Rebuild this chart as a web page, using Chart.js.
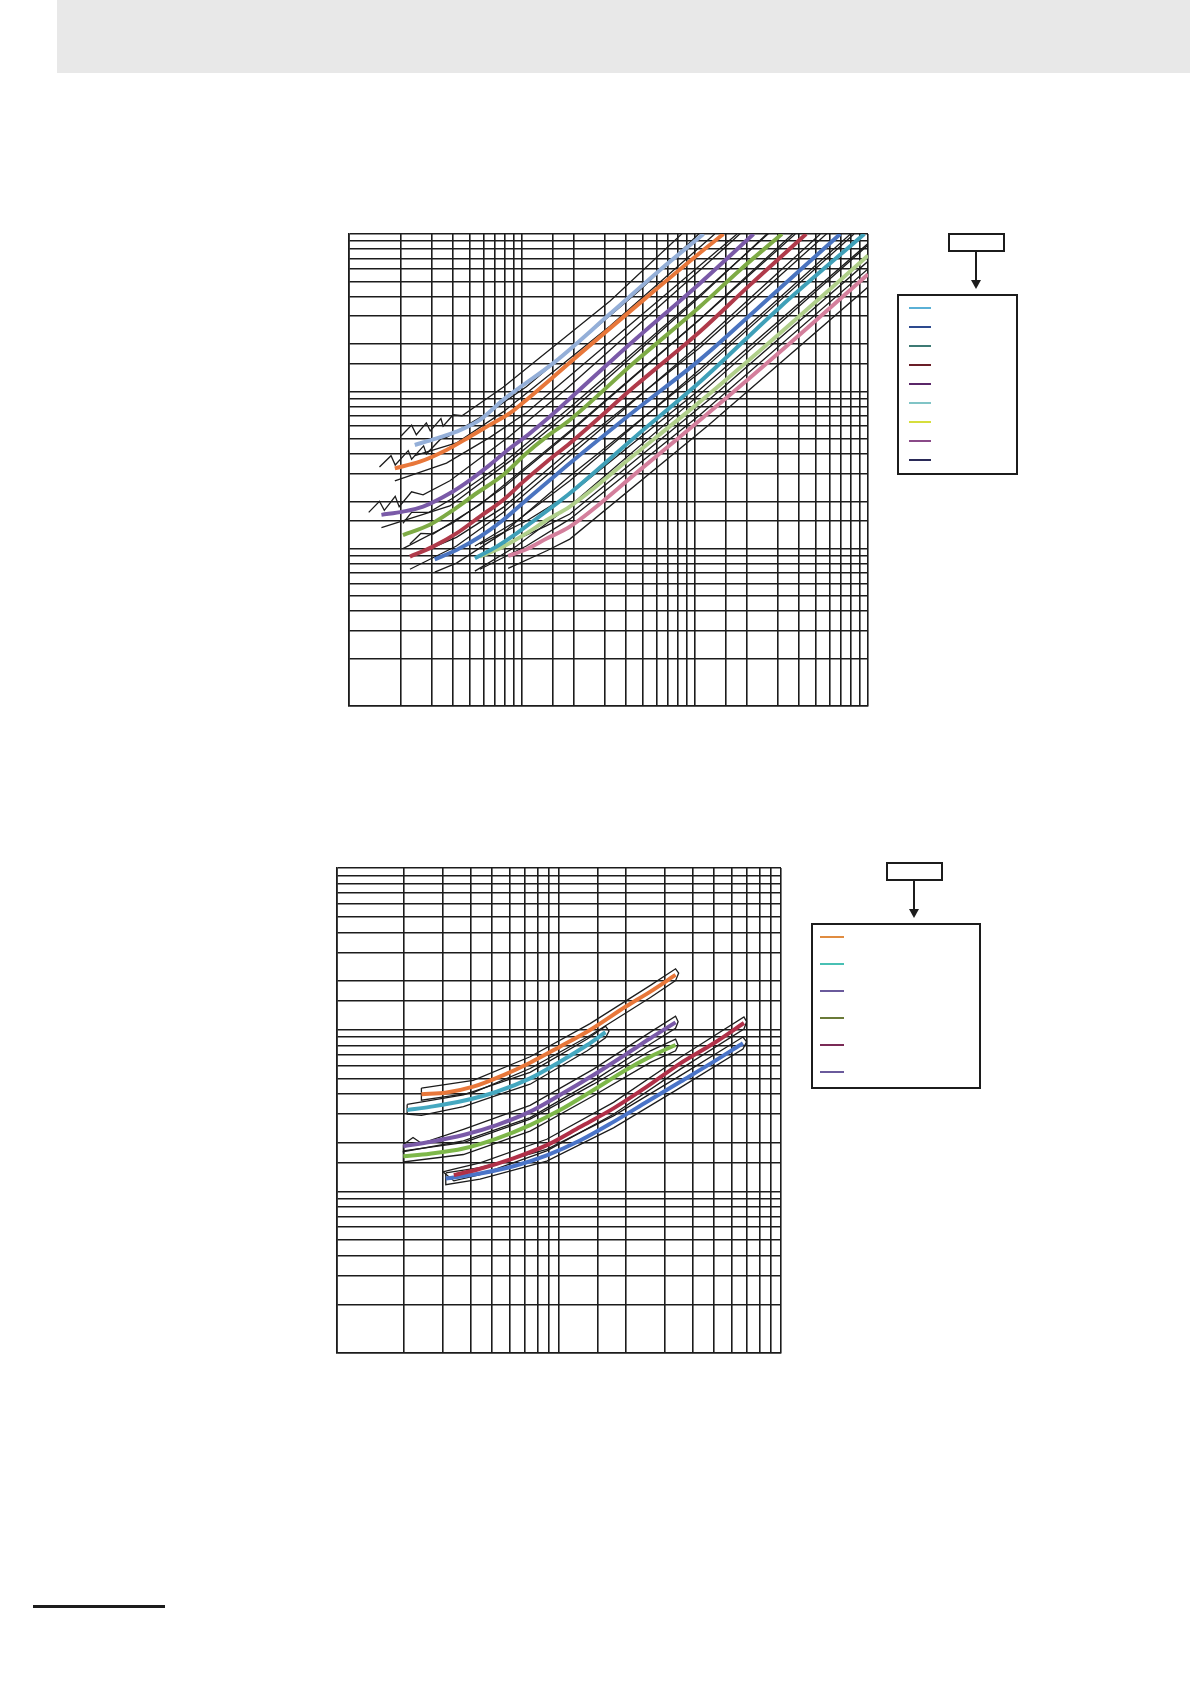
<!DOCTYPE html>
<html lang="en">
<head>
    <meta charset="UTF-8">
    <title>Characteristic curves</title>
    <script src="https://cdn.jsdelivr.net/npm/chart.js"></script>
    <style>
        body { margin: 0; background: #fff; }
        #page { position: relative; width: 1190px; height: 1684px; overflow: hidden; }
        .header { position: absolute; left: 57px; top: 0; width: 1133px; height: 73px; background: #e8e8e8; }
        .wrap { position: absolute; }
        .box { position: absolute; border: 2px solid #1c1c1c; box-sizing: border-box; background: #fff; }
        .stem { position: absolute; width: 2px; background: #1c1c1c; }
        .head { position: absolute; width: 0; height: 0; border-left: 5px solid transparent; border-right: 5px solid transparent; border-top: 9px solid #1c1c1c; }
        .sample { position: absolute; height: 2px; }
        .footer { position: absolute; left: 33px; top: 1605px; width: 132px; height: 3px; background: #1c1c1c; }
    </style>
</head>
<body>
<div id="page">
    <div class="header"></div>

    <!-- upper chart -->
    <div class="wrap" style="left:347px; top:232px;"><canvas id="topChart" width="523" height="476"></canvas></div>
    <div class="box" style="left:948px; top:233px; width:57px; height:19px;"></div>
    <div class="stem" style="left:975px; top:251px; height:30px;"></div>
    <div class="head" style="left:971px; top:280px;"></div>
    <div class="box" id="topLegend" style="left:897px; top:294px; width:121px; height:181px;"></div>

    <!-- lower chart -->
    <div class="wrap" style="left:335px; top:866px;"><canvas id="bottomChart" width="448" height="489"></canvas></div>
    <div class="box" style="left:886px; top:862px; width:57px; height:19px;"></div>
    <div class="stem" style="left:913px; top:880px; height:30px;"></div>
    <div class="head" style="left:909px; top:909px;"></div>
    <div class="box" id="bottomLegend" style="left:811px; top:923px; width:170px; height:166px;"></div>

    <div class="footer"></div>
</div>

<script>
    // ---- upper chart: colored characteristic curves ----
    const lbX = [2.40, 3.21, 4.18, 5.71, 7.78, 15.5, 32.3, 62.8, 112];
    const lbY = [4.56, 5.03, 5.54, 6.58, 8.82, 15.4, 31.1, 59.1, 100];
    const orX = [1.84, 2.57, 3.66, 5.00, 6.52, 8.51, 10.6, 21.6, 48.1, 107, 146];
    const orY = [3.24, 3.57, 4.24, 5.15, 6.12, 7.26, 8.82, 17.3, 36.5, 76.0, 100];
    const puX = [1.54, 2.05, 2.68, 3.83, 5.00, 6.52, 8.51, 11.1, 14.5, 18.1, 42.1, 107, 218];
    const puY = [1.64, 1.72, 1.85, 2.25, 2.73, 3.41, 4.35, 5.41, 6.91, 8.60, 20.0, 48.7, 100];
    const grX = [2.05, 2.93, 4.00, 5.46, 7.78, 10.6, 13.9, 18.9, 45.0, 107, 182, 318];
    const grY = [1.22, 1.42, 1.76, 2.25, 2.94, 4.04, 5.15, 6.58, 15.4, 34.6, 59.1, 100];
    const rdX = [2.25, 3.06, 4.18, 5.71, 7.78, 10.2, 13.9, 18.9, 45.0, 107, 208, 439];
    const rdY = [0.89, 1.03, 1.25, 1.60, 2.04, 2.67, 3.57, 4.68, 10.8, 24.0, 47.5, 100];
    const blX = [3.13, 4.18, 5.71, 7.78, 10.6, 14.5, 18.9, 45.0, 107, 272, 691];
    const blY = [0.856, 0.981, 1.19, 1.52, 2.04, 2.73, 3.49, 7.55, 15.9, 39.8, 100];
    const tlX = [5.34, 7.13, 9.31, 12.2, 15.9, 18.9, 45.0, 107, 311, 952];
    const tlY = [0.869, 1.03, 1.25, 1.56, 1.94, 2.25, 5.13, 11.5, 34.4, 100];
    const lgX = [5.71, 7.78, 10.6, 13.9, 18.9, 45.0, 107, 311, 1000];
    const lgY = [0.890, 1.03, 1.25, 1.52, 1.85, 3.98, 8.60, 23.5, 72.9];
    const pkX = [8.32, 10.6, 13.9, 18.9, 48.1, 120, 355, 1000];
    const pkY = [0.899, 0.991, 1.16, 1.38, 3.17, 7.30, 20.3, 55.5];

    // upper chart: black tolerance band edges [x, y]
    const lbUp = [[2.0,5.2],[2.3,6.1],[2.45,5.3],[2.8,6.3],[2.95,5.6],[3.4,6.7],[3.5,6.0],[4.0,7.1],[4.5,7.0],[7.78,10.6],[32.3,37.5],[100,120]];
    const lbLo = [[2.4,3.9],[4.18,4.7],[7.78,7.4],[32.3,26],[130,100]];
    const orUp = [[1.5,3.3],[1.75,3.9],[1.85,3.4],[2.2,4.2],[2.3,3.7],[2.7,4.5],[2.8,4.0],[3.4,5.0],[3.66,5.1],[6.52,7.4],[10.6,10.7],[48.1,44],[125,120]];
    const orLo = [[1.84,2.7],[3.66,3.5],[6.52,5.1],[10.6,7.3],[48.1,30],[175,100]];
    const puUp = [[1.3,1.7],[1.5,2.0],[1.6,1.75],[1.85,2.15],[1.95,1.85],[2.3,2.3],[2.68,2.2],[3.83,2.7],[8.51,5.2],[18.1,10.4],[107,59],[218,120]];
    const puLo = [[1.54,1.36],[3.83,1.87],[8.51,3.6],[18.1,7.1],[107,40],[260,100]];
    const grUp = [[2.05,1.45],[2.3,1.7],[2.9,1.7],[4.0,2.1],[7.78,3.5],[18.9,7.9],[107,41],[318,120]];
    const grLo = [[2.05,1.0],[4.0,1.46],[7.78,2.44],[18.9,5.5],[107,28.7],[380,100]];
    const rdUp = [[2.25,1.07],[2.6,1.25],[3.06,1.24],[5.71,1.9],[18.9,5.6],[107,28.8],[439,120]];
    const rdLo = [[2.25,0.74],[4.18,1.04],[7.78,1.7],[18.9,3.9],[107,20],[530,100]];
    const blUp = [[3.13,1.03],[4.18,1.18],[7.78,1.83],[18.9,4.2],[107,19.0],[691,120]];
    const blLo = [[3.13,0.71],[4.18,0.81],[7.78,1.26],[18.9,2.9],[107,13.2],[830,100]];
    const tlUp = [[5.34,1.04],[9.31,1.5],[18.9,2.7],[107,13.8],[952,120]];
    const tlLo = [[5.34,0.72],[9.31,1.04],[18.9,1.87],[107,9.6],[1000,85]];
    const lgUp = [[5.71,1.07],[10.6,1.5],[18.9,2.22],[107,10.3],[1000,87]];
    const lgLo = [[5.71,0.74],[10.6,1.04],[18.9,1.54],[107,7.1],[1000,60]];
    const pkUp = [[8.32,1.08],[13.9,1.4],[18.9,1.66],[120,8.8],[1000,67]];
    const pkLo = [[8.32,0.75],[13.9,0.97],[18.9,1.15],[120,6.1],[1000,46]];

    // ---- lower chart ----
    const bOrX = [2.40, 3.12, 4.11, 5.62, 7.41, 10.1, 13.8, 20.0, 25.8, 33.5];
    const bOrY = [3.98, 4.09, 4.44, 5.24, 6.25, 7.85, 9.96, 13.9, 17.2, 21.8];
    const bTlX = [2.07, 2.62, 3.71, 5.24, 7.41, 10.1, 13.4, 16.2];
    const bTlY = [3.18, 3.33, 3.63, 4.13, 5.00, 6.34, 8.04, 9.64];
    const bPuX = [1.99, 2.62, 3.71, 5.24, 7.41, 10.1, 14.3, 20.0, 25.8, 33.5];
    const bPuY = [1.90, 2.02, 2.23, 2.57, 3.11, 3.94, 5.24, 7.04, 8.85, 11.1];
    const bGrX = [1.99, 2.62, 3.71, 5.24, 7.41, 10.1, 14.3, 20.0, 25.8, 33.5];
    const bGrY = [1.65, 1.71, 1.84, 2.12, 2.57, 3.18, 4.23, 5.63, 6.81, 8.04];
    const bRdX = [3.36, 4.41, 6.23, 8.81, 12.5, 17.6, 24.9, 35.2, 49.8, 68.1];
    const bRdY = [1.26, 1.38, 1.60, 1.93, 2.51, 3.26, 4.44, 6.19, 8.24, 11.0];
    const bBlX = [3.09, 4.41, 6.23, 8.81, 12.5, 17.6, 24.9, 35.2, 49.8, 67.4];
    const bBlY = [1.20, 1.29, 1.43, 1.67, 2.07, 2.69, 3.58, 4.76, 6.34, 8.24];

    // lower chart: tolerance outlines (closed) [x, y]
    const bOrBand = [[2.40,4.35],[4.11,4.85],[7.41,6.8],[13.8,10.9],[25.8,18.8],[33.5,23.8],[34.6,22.4],[33.5,20.1],[25.8,15.8],[13.8,9.2],[7.41,5.75],[4.11,4.08],[2.40,3.66],[2.40,4.35]];
    const bTlBand = [[2.07,3.45],[3.71,3.95],[7.41,5.45],[13.4,8.75],[16.2,10.5],[16.8,9.8],[16.2,8.9],[13.4,7.4],[7.41,4.6],[3.71,3.34],[2.4,2.95],[2.07,3.0],[2.07,3.45]];
    const bPuBand = [[1.99,1.95],[2.2,2.15],[2.4,1.98],[3.71,2.42],[7.41,3.4],[14.3,5.7],[25.8,9.65],[33.5,12.1],[34.4,11.2],[33.5,10.2],[25.8,8.15],[14.3,4.82],[7.41,2.86],[3.71,2.05],[1.99,1.76],[1.99,1.95]];
    const bGrBand = [[1.99,1.78],[3.71,2.0],[7.41,2.8],[14.3,4.6],[25.8,7.4],[33.5,8.75],[34.4,8.0],[33.5,7.4],[25.8,6.27],[14.3,3.9],[7.41,2.36],[3.71,1.69],[1.99,1.52],[1.99,1.78]];
    const bRdBand = [[3.0,1.32],[3.36,1.37],[4.41,1.5],[8.81,2.1],[17.6,3.55],[35.2,6.75],[68.1,12.0],[70,11.2],[68.1,10.1],[35.2,5.7],[17.6,3.0],[8.81,1.78],[4.41,1.27],[3.36,1.16],[3.0,1.32]];
    const bBlBand = [[3.09,1.3],[4.41,1.4],[8.81,1.82],[17.6,2.93],[35.2,5.2],[67.4,9.0],[70,8.4],[67.4,7.6],[35.2,4.38],[17.6,2.47],[8.81,1.54],[4.41,1.19],[3.09,1.1],[3.09,1.3]];

    // legend swatch colours
    const topLegendColors = ['#5ab0d6', '#2d4a8e', '#3d7a74', '#6a1e28', '#5a2668', '#80c4c6', '#d6de3c', '#8a4a88', '#2a2a58'];
    const bottomLegendColors = ['#e08c40', '#48c0b4', '#6a5a9c', '#6a7a38', '#7a2a56', '#6a5a9c'];

    function pts(xs, ys) {
        return xs.map((x, i) => ({ x: x, y: ys[i] }));
    }
    function pairs(list) {
        return list.map(p => ({ x: p[0], y: p[1] }));
    }
    function curve(xs, ys, color) {
        return { data: pts(xs, ys), borderColor: color, borderWidth: 4, cubicInterpolationMode: 'monotone', order: 0 };
    }
    function band(list) {
        return { data: pairs(list), borderColor: '#1c1c1c', borderWidth: 1.3, tension: 0, order: 1 };
    }

    function logAxis(min, max) {
        return {
            type: 'logarithmic', min: min, max: max,
            ticks: { display: false, autoSkip: false },
            grid: { color: '#1c1c1c', lineWidth: 1.6, drawTicks: false, tickLength: 0 },
            border: { display: true, color: '#1c1c1c', width: 1.6 }
        };
    }

    function makeChart(id, datasets, xMax, yMin, yMax) {
        new Chart(document.getElementById(id), {
            type: 'scatter',
            data: { datasets: datasets },
            options: {
                responsive: false,
                animation: false,
                devicePixelRatio: 1,
                layout: { padding: 2 },
                showLine: true,
                elements: { point: { radius: 0 }, line: { fill: false } },
                plugins: { legend: { display: false }, tooltip: { enabled: false } },
                scales: { x: logAxis(1, xMax), y: logAxis(yMin, yMax) }
            }
        });
    }

    makeChart('topChart', [
        curve(lbX, lbY, '#94afd8'),
        curve(orX, orY, '#e8773a'),
        curve(puX, puY, '#7a5aa8'),
        curve(grX, grY, '#7eab45'),
        curve(rdX, rdY, '#b03a4a'),
        curve(blX, blY, '#4a74c0'),
        curve(tlX, tlY, '#3fa0b8'),
        curve(lgX, lgY, '#b0cf8a'),
        curve(pkX, pkY, '#d47f9c'),
        band(lbUp), band(lbLo), band(orUp), band(orLo), band(puUp), band(puLo),
        band(grUp), band(grLo), band(rdUp), band(rdLo), band(blUp), band(blLo),
        band(tlUp), band(tlLo), band(lgUp), band(lgLo), band(pkUp), band(pkLo)
    ], 1000, 0.1, 100);

    makeChart('bottomChart', [
        curve(bOrX, bOrY, '#e8773a'),
        curve(bTlX, bTlY, '#45a8c0'),
        curve(bPuX, bPuY, '#7a5aa8'),
        curve(bGrX, bGrY, '#7eb84a'),
        curve(bRdX, bRdY, '#b03048'),
        curve(bBlX, bBlY, '#4a74c8'),
        band(bOrBand), band(bTlBand), band(bPuBand), band(bGrBand), band(bRdBand), band(bBlBand)
    ], 100, 0.1, 100);

    // legend swatches
    function fillLegend(id, colors, x0, y0, step, len) {
        const box = document.getElementById(id);
        colors.forEach((c, i) => {
            const s = document.createElement('div');
            s.className = 'sample';
            s.style.left = x0 + 'px';
            s.style.top = (y0 + i * step) + 'px';
            s.style.width = len + 'px';
            s.style.background = c;
            box.appendChild(s);
        });
    }
    fillLegend('topLegend', topLegendColors, 10, 11, 19, 22);
    fillLegend('bottomLegend', bottomLegendColors, 7, 11, 27, 24);
</script>
</body>
</html>
